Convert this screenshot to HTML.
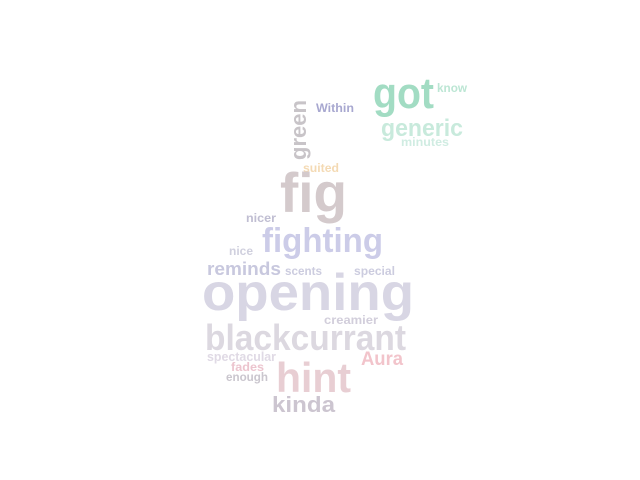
<!DOCTYPE html>
<html><head><meta charset="utf-8"><style>
html,body{margin:0;padding:0;background:#fff;width:640px;height:480px;overflow:hidden}
svg text{font-family:"Liberation Sans",sans-serif;}
</style></head><body>
<svg id="cloud" width="640" height="480" viewBox="0 0 640 480" xmlns="http://www.w3.org/2000/svg"></svg>
<script>
const words = ["got","know","Within","green","generic","minutes","suited","fig","nicer","fighting","nice","reminds","scents","special","opening","creamier","blackcurrant","spectacular","Aura","fades","enough","hint","kinda"];
const sizes = [44,12,12,22,24,12,12,56,12,34,12,18,12,12,52,12,36,13,19,12,12,42,22];
const placeX = [373,437,316,306,381,401,303,280,246,262,229,207,285,354,202,324,205,207,361,231,226,276,272];
const placeY = [108,92,112,160,136,146,172,212,222,252,255,275,275,275,310,324,350,361,365,371,381,392,412];
const widths = [61,30,38,60,82,48,36,67,30,121,24,74,37,41,212,54,201,69,42,33,42,75,63];
const colors = ["#a2dcc3","#bce6d4","#a8a8d0","#c8c4c8","#c8eadc","#d0ece2","#f4dab4","#d4cacc","#c0bed2","#cccce8","#d0d0de","#c8c8de","#ccccdf","#ccccdf","#d8d6e4","#d2cedb","#dcd8e0","#e0dae5","#f2c4cb","#ecc4ce","#cac6ce","#e8ced3","#ccc5d0"];
const rot = [0,0,0,-90,0,0,0,0,0,0,0,0,0,0,0,0,0,0,0,0,0,0,0];
const svg = document.getElementById('cloud');
words.forEach((w,i)=>{
  const t = document.createElementNS('http://www.w3.org/2000/svg','text');
  
  
  t.setAttribute('x', placeX[i]);
  t.setAttribute('y', placeY[i]);
  t.setAttribute('font-size', sizes[i]);
  t.setAttribute('font-weight', 'bold');
  t.setAttribute('fill', colors[i]);
  t.setAttribute('textLength', widths[i]);
  t.setAttribute('lengthAdjust', 'spacingAndGlyphs');
  if (rot[i]) t.setAttribute('transform', 'rotate(' + rot[i] + ' ' + placeX[i] + ' ' + placeY[i] + ')');
  t.textContent = w;
  svg.appendChild(t);
});
</script>
</body></html>
